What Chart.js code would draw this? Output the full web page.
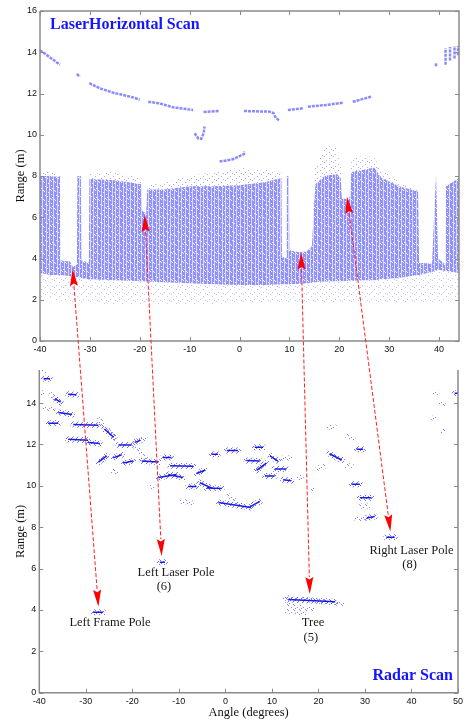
<!DOCTYPE html>
<html>
<head>
<meta charset="utf-8">
<title>Laser vs Radar Scan</title>
<script src="https://cdn.jsdelivr.net/npm/chart.js@4.4.1/dist/chart.umd.min.js"></script>
<style>
  html, body { margin: 0; padding: 0; background: #fff; }
  #wrap { position: relative; width: 466px; height: 721px; }
  #wrap canvas { position: absolute; left: 0; top: 0; }
</style>
</head>
<body>
<div id="wrap">
  <canvas id="laserChart" width="466" height="721"></canvas>
  <canvas id="radarChart" width="466" height="721"></canvas>
</div>
<script>
// laser-radar-scan.html
// Laser horizontal scan (top) vs radar scan (bottom), linked by arrows

// ---- Laser scan: envelope of the dense return band (angle deg -> range m)
const laserAngles = [-40, -38, -36, -35.9, -34, -33.4, -32.6, -32.5, -31.8, -31.7, -30.2, -30.1,
    -25, -19.7, -19.5, -18.7, -18.5, -15, -10, -5, 0, 5, 8.4, 8.5, 9.4, 9.5, 9.9, 10,
    12, 13.5, 14.5, 15.2, 17, 19.5, 20.3, 20.5, 22.2, 22.4, 25, 27, 28.5, 32, 35.8, 36,
    38.6, 39, 39.4, 39.8, 41.3, 41.4, 44];
const laserTop = [8.0, 8.0, 7.95, 3.9, 3.85, 3.6, 3.7, 8.0, 8.0, 3.9, 3.8, 7.85,
    7.8, 7.6, 6.3, 6.2, 7.35, 7.35, 7.5, 7.5, 7.55, 7.7, 7.9, 4.1, 4.0, 8.0, 8.0, 4.4,
    4.3, 4.35, 4.6, 7.6, 8.0, 8.1, 7.9, 6.9, 6.9, 8.2, 8.3, 8.4, 7.9, 7.5, 7.25, 3.8,
    3.75, 6.0, 8.1, 4.0, 3.7, 7.5, 7.9];
const laserBottom = [3.3, 3.2, 3.2, 3.2, 3.15, 3.1, 3.1, 3.1, 3.05, 3.05, 3.0, 3.0,
    2.95, 2.9, 2.9, 2.88, 2.88, 2.85, 2.8, 2.75, 2.72, 2.72, 2.75, 2.75, 2.75, 2.75, 2.75, 2.75,
    2.78, 2.8, 2.82, 2.85, 2.88, 2.9, 2.9, 2.9, 2.92, 2.92, 2.95, 2.95, 3.0, 3.05, 3.2, 3.2,
    3.35, 3.4, 3.4, 3.45, 3.4, 3.4, 3.3];
const groundLow = [2.1, 2.0, 1.95, 1.95, 1.9, 1.9, 1.9, 1.9, 1.9, 1.9, 1.85, 1.85,
    1.75, 1.7, 1.7, 1.7, 1.7, 1.7, 1.75, 1.8, 1.85, 1.85, 1.85, 1.85, 1.85, 1.85, 1.85, 1.85,
    1.85, 1.85, 1.85, 1.85, 1.85, 1.85, 1.85, 1.85, 1.85, 1.85, 1.85, 1.85, 1.85, 1.85, 1.85, 1.85,
    1.9, 1.9, 1.9, 1.9, 1.9, 1.9, 1.95];
const hazeTop = [8.2, 8.2, 8.1, 3.9, 3.85, 3.6, 3.7, 8.05, 8.05, 3.9, 3.8, 8.1,
    8.2, 7.9, 6.3, 6.2, 7.6, 7.7, 8.0, 8.2, 8.4, 8.3, 8.2, 4.1, 4.0, 8.0, 8.0, 4.4,
    4.3, 4.35, 4.6, 8.5, 9.4, 9.5, 8.5, 6.9, 7.0, 8.8, 9.0, 8.9, 8.3, 7.7, 7.4, 3.8,
    3.75, 6.0, 8.1, 4.0, 3.7, 7.6, 8.0];

// ---- Laser scan: far wall returns (null = break between pieces)
const wallAngles = [-40, -38, -36, null, -32.6, -32, null, -30.1, -28, -25.3, -21.3, -20, null,
    -18.3, -16, -13.3, -9.3, null, -7.2, -4.1, null, -9, -8.3, -7.7, -7.2, -7, null,
    0.9, 6, 6.8, 7.3, 8, null, 9.7, 12.7, null, 13.7, 17.3, 20.7, null, 22.7, 26.5, null,
    39.3, 39.5, null, -4, -1.3, 0.9, 0.9, null, 41.3, 41.3, null, 42.2, 42.2, null,
    43.1, 43.1, null, 43.8, 43.8];
const wallRanges = [14.1, 13.75, 13.4, null, 12.95, 12.8, null, 12.5, 12.25, 12.04, 11.81, 11.7, null,
    11.6, 11.52, 11.33, 11.2, null, 11.1, 11.15, null, 10.07, 9.83, 9.8, 10.07, 10.4, null,
    11.15, 11.12, 11.05, 10.8, 10.7, null, 11.2, 11.28, null, 11.36, 11.44, 11.55, null, 11.6, 11.85, null,
    13.46, 13.3, null, 8.7, 8.81, 9.07, 9.2, null, 13.4, 14.2, null, 13.6, 14.25, null,
    13.7, 14.3, null, 13.85, 14.3];

// ---- Radar scan: return clusters [startAngle, endAngle, startRange, endRange]
const radarStrong = [
    [-39.1, -37.7, 15.18, 15.18], [-33.8, -32.0, 14.43, 14.40], [-36.6, -35.4, 14.2, 14.05],
    [-35.9, -33.0, 13.55, 13.45], [-38.1, -35.9, 13.03, 13.03], [-32.7, -27.3, 12.97, 12.93],
    [-26.0, -24.0, 12.75, 12.35], [-33.8, -29.5, 12.25, 12.20], [-29.5, -27.0, 12.10, 12.05],
    [-23.0, -20.2, 11.98, 11.98], [-19.5, -18.3, 12.1, 12.2], [-27.3, -25.5, 11.15, 11.45],
    [-24.1, -22.3, 11.35, 11.5], [-22.0, -19.8, 11.1, 11.2], [-18.0, -14.4, 11.2, 11.15],
    [-13.4, -11.6, 11.37, 11.37], [-14.4, -10.5, 10.40, 10.55], [-12.3, -9.1, 10.55, 10.40],
    [-11.9, -6.9, 10.97, 10.95], [-8.0, -6.2, 9.97, 9.97], [-6.2, -4.4, 10.6, 10.75],
    [-5.5, -3.0, 10.15, 9.9], [-4.0, -0.8, 9.9, 9.87], [-3.0, -1.6, 11.53, 11.53],
    [-1.5, 5.5, 9.2, 8.95], [5.0, 7.4, 8.95, 9.25], [0.3, 2.7, 11.71, 11.71],
    [4.5, 7.4, 11.22, 11.2], [6.3, 8.1, 11.87, 11.87], [6.7, 8.8, 10.75, 11.1],
    [8.5, 10.6, 10.48, 10.48], [9.6, 11.3, 11.45, 11.2], [10.6, 13.1, 10.81, 10.81],
    [12.4, 14.2, 10.29, 10.25], [22.4, 25.0, 11.55, 11.25], [28.2, 29.6, 11.77, 11.77],
    [27.1, 28.9, 10.08, 10.08], [28.9, 31.4, 9.43, 9.43], [30.4, 32.1, 8.45, 8.52],
    [34.6, 36.4, 7.52, 7.52], [49.3, 50.0, 14.48, 14.48], [-14.1, -13.0, 6.31, 6.31],
    [-28.4, -26.3, 3.89, 3.89], [13.5, 23.6, 4.5, 4.4]
];
const radarWeak = [
    [-39.8, -38.8, 15.58, 15.58], [-40.0, -39.4, 14.53, 14.50], [-37.6, -35.4, 14.45, 13.9],
    [-38.8, -37.0, 13.72, 13.68], [-27.1, -23.7, 13.2, 12.3], [-20.2, -17.3, 12.0, 12.3],
    [-19.4, -17.0, 11.9, 11.3], [-24.1, -23.6, 10.69, 10.69], [-15.8, -15.4, 9.97, 9.97],
    [-9.4, -7.3, 9.25, 9.2], [0.5, 3.5, 9.55, 9.0], [12.4, 13.8, 11.34, 11.34],
    [15.8, 16.3, 10.4, 10.4], [18.6, 19.0, 9.8, 9.8], [19.9, 21.4, 10.85, 10.95],
    [22.1, 23.5, 12.82, 12.85], [26.0, 27.4, 12.45, 12.3], [26.0, 27.1, 10.97, 10.97],
    [29.2, 30.7, 9.03, 9.03], [28.2, 30.4, 8.4, 8.45], [45.1, 45.5, 14.5, 14.5],
    [46.4, 46.8, 13.95, 13.95], [44.7, 45.1, 13.28, 13.28], [46.6, 47.0, 12.65, 12.65],
    [12.8, 25.0, 4.6, 4.3], [13.0, 19.0, 4.25, 4.0], [13.2, 17.0, 3.95, 3.85]
];

// ---- Links: laser feature (angle, range) -> radar feature (angle, range)
const linkLaserAngle = [-33.45, -19.0, 12.35, 21.55];
const linkLaserRange = [3.49, 6.12, 4.29, 7.0];
const linkRadarAngle = [-27.3, -13.7, 18.14, 35.47];
const linkRadarRange = [4.16, 6.61, 4.77, 7.79];

// ---- Axis ticks
const laserXTicks = [-40, -30, -20, -10, 0, 10, 20, 30, 40];
const laserYTicks = [0, 2, 4, 6, 8, 10, 12, 14, 16];
const radarXTicks = [-40, -30, -20, -10, 0, 10, 20, 30, 40, 50];
const radarYTicks = [0, 2, 4, 6, 8, 10, 12, 14];

// Text labels on the radar plot, placed in data coordinates
const radarNotes = [
    { text: 'Left Frame Pole', x: -24.8, y: 3.39 },
    { text: 'Left Laser Pole', x: -10.6, y: 5.78 },
    { text: '(6)', x: -13.2, y: 5.1 },
    { text: 'Tree', x: 18.85, y: 3.39 },
    { text: '(5)', x: 18.35, y: 2.68 },
    { text: 'Right Laser Pole', x: 40.0, y: 6.87 },
    { text: '(8)', x: 39.6, y: 6.19 }
];

const SERIF = "'Liberation Serif', 'Times New Roman', serif";
const SANS = "'Liberation Sans', Arial, sans-serif";
const AXIS_GREY = '#8a8a8a';

Chart.defaults.font.family = SANS;
Chart.defaults.color = '#111';

/**
 * Builds a small repeating canvas pattern.
 */
function makePattern(w, h, paint) {
    const c = document.createElement('canvas');
    c.width = w;
    c.height = h;
    const g = c.getContext('2d');
    paint(g);
    return g.createPattern(c, 'repeat');
}

function dots(g, color, list) {
    g.fillStyle = color;
    list.forEach(p => g.fillRect(p[0], p[1], 1, 1));
}

// vertical scan stripes of the dense laser band
const stripeFill = makePattern(11, 9, g => {
    g.fillStyle = 'rgb(144,144,255)';
    g.fillRect(0, 0, 11, 9);
    g.fillStyle = 'rgb(218,218,255)';
    [2, 5, 9].forEach(x => g.fillRect(x, 0, 1, 9));
    dots(g, 'rgba(255,255,255,0.9)', [[0, 2], [7, 5], [3, 7], [10, 1], [6, 0], [1, 6], [8, 8], [4, 3], [7, 1]]);
});

// loose speckle for ground returns
const groundFill = makePattern(9, 7, g => {
    dots(g, 'rgba(150,150,255,0.6)', [[0, 0], [5, 2], [2, 5], [7, 6]]);
});

// sparse speckle above the band
const hazeFill = makePattern(9, 6, g => {
    dots(g, 'rgba(130,130,255,0.7)', [[0, 0], [5, 2], [2, 4], [7, 5]]);
});

// fuzzy speckle round radar clusters
const radarHalo = makePattern(5, 5, g => {
    dots(g, 'rgba(60,60,255,0.75)', [[0, 0], [3, 1], [1, 3], [4, 4], [2, 2]]);
});
const radarHaze = makePattern(6, 5, g => {
    dots(g, 'rgba(80,80,255,0.7)', [[0, 0], [3, 2], [5, 4], [1, 3]]);
});

function xy(xs, ys) {
    return xs.map((x, i) => ({ x: x === null ? xs[i - 1] : x, y: ys[i] }));
}

function segments(list) {
    const pts = [];
    list.forEach(s => {
        pts.push({ x: s[0], y: s[2] }, { x: s[1], y: s[3] }, { x: s[1], y: null });
    });
    return pts;
}

function envelope(ys, fill, bg) {
    return {
        data: xy(laserAngles, ys),
        borderWidth: 0,
        borderColor: 'transparent',
        pointRadius: 0,
        fill: fill,
        backgroundColor: bg,
        tension: 0
    };
}

/**
 * Box frame with inward tick marks (MATLAB style).
 */
const framePlugin = {
    id: 'frame',
    afterDraw(chart, args, opts) {
        const { ctx, chartArea: a, scales: { x, y } } = chart;
        const len = 4;
        ctx.save();
        ctx.strokeStyle = AXIS_GREY;
        ctx.lineWidth = 1.5;
        ctx.beginPath();
        ctx.moveTo(a.left, a.top);
        ctx.lineTo(a.left, a.bottom);
        ctx.lineTo(a.right, a.bottom);
        ctx.lineTo(a.right, a.top);
        if (opts.top) ctx.lineTo(a.left, a.top);
        ctx.stroke();
        ctx.lineWidth = 1;
        ctx.beginPath();
        x.ticks.forEach(t => {
            const px = Math.round(x.getPixelForValue(t.value)) + 0.5;
            ctx.moveTo(px, a.bottom);
            ctx.lineTo(px, a.bottom - len);
            if (opts.top) {
                ctx.moveTo(px, a.top);
                ctx.lineTo(px, a.top + len);
            }
        });
        y.ticks.forEach(t => {
            const py = Math.round(y.getPixelForValue(t.value)) + 0.5;
            ctx.moveTo(a.left, py);
            ctx.lineTo(a.left + len, py);
            ctx.moveTo(a.right, py);
            ctx.lineTo(a.right - len, py);
        });
        ctx.stroke();
        ctx.restore();
    }
};

/**
 * Blue bold panel caption inside the plot area.
 */
const captionPlugin = {
    id: 'caption',
    afterDraw(chart, args, opts) {
        const { ctx, chartArea: a } = chart;
        ctx.save();
        ctx.font = 'bold 16px ' + SERIF;
        ctx.fillStyle = '#1414ff';
        ctx.textBaseline = 'middle';
        if (opts.align === 'right') {
            ctx.textAlign = 'right';
            ctx.fillText(opts.text, a.right - opts.dx, a.bottom - opts.dy);
        } else {
            ctx.textAlign = 'left';
            ctx.fillText(opts.text, a.left + opts.dx, a.top + opts.dy);
        }
        ctx.restore();
    }
};

function tickAxis(min, max, values, fitSize, horizontal, title, titlePad) {
    return {
        type: 'linear',
        min: min,
        max: max,
        afterBuildTicks: scale => { scale.ticks = values.map(v => ({ value: v })); },
        afterFit: scale => {
            if (horizontal) scale.height = fitSize; else scale.width = fitSize;
        },
        grid: { display: false, drawTicks: false },
        border: { display: false },
        ticks: {
            font: { size: 9, family: SANS },
            color: '#111',
            padding: 3,
            maxRotation: 0,
            autoSkip: false
        },
        title: {
            display: !!title,
            text: title,
            font: { size: 12.5, family: SERIF },
            color: '#111',
            padding: titlePad
        }
    };
}

function baseOptions() {
    return {
        responsive: false,
        animation: false,
        events: [],
        plugins: { legend: { display: false }, tooltip: { enabled: false } }
    };
}

// ---------------- Laser chart (top) ----------------
const laserOptions = baseOptions();
laserOptions.layout = { padding: { left: 0, right: 7, top: 11, bottom: 361 } };
laserOptions.scales = {
    x: tickAxis(-40, 44, laserXTicks, 19, true, '', 0),
    y: tickAxis(0, 16, laserYTicks, 40, false, 'Range (m)', { top: 13.5, bottom: 0 })
};
laserOptions.plugins.frame = { top: true };
laserOptions.plugins.caption = { text: 'LaserHorizontal Scan', align: 'left', dx: 10, dy: 14 };

const laserChart = new Chart(document.getElementById('laserChart'), {
    type: 'line',
    data: {
        datasets: [
            envelope(groundLow, false, 'transparent'),
            envelope(laserBottom, 0, groundFill),
            envelope(laserTop, 1, stripeFill),
            envelope(hazeTop, 2, hazeFill),
            {
                data: xy(wallAngles, wallRanges),
                borderColor: 'rgba(118,118,255,0.85)',
                borderWidth: 2.5,
                borderDash: [3, 1],
                pointRadius: 0,
                fill: false,
                spanGaps: false,
                order: -1
            }
        ]
    },
    options: laserOptions,
    plugins: [framePlugin, captionPlugin]
});

/**
 * Red dashed arrows linking laser features to radar features,
 * plus the text notes of the radar panel.
 */
const linkPlugin = {
    id: 'links',
    afterDraw(chart) {
        const { ctx } = chart;
        const rx = chart.scales.x, ry = chart.scales.y;
        const lx = laserChart.scales.x, ly = laserChart.scales.y;
        const headLen = 17, headHalf = 4;

        ctx.save();
        linkLaserAngle.forEach((a, i) => {
            const p1 = { x: lx.getPixelForValue(a), y: ly.getPixelForValue(linkLaserRange[i]) };
            const p2 = { x: rx.getPixelForValue(linkRadarAngle[i]), y: ry.getPixelForValue(linkRadarRange[i]) };
            const dx = p2.x - p1.x, dy = p2.y - p1.y;
            const d = Math.hypot(dx, dy);
            const ux = dx / d, uy = dy / d;

            ctx.strokeStyle = '#ff2020';
            ctx.lineWidth = 1;
            ctx.setLineDash([4, 2]);
            ctx.beginPath();
            ctx.moveTo(p1.x + ux * headLen, p1.y + uy * headLen);
            ctx.lineTo(p2.x - ux * headLen, p2.y - uy * headLen);
            ctx.stroke();
            ctx.setLineDash([]);

            ctx.fillStyle = '#ff0000';
            [[p1, 1], [p2, -1]].forEach(([tip, s]) => {
                const bx = tip.x + s * ux * headLen, by = tip.y + s * uy * headLen;
                ctx.beginPath();
                ctx.moveTo(tip.x, tip.y);
                ctx.lineTo(bx - uy * headHalf, by + ux * headHalf);
                ctx.lineTo(tip.x + s * ux * headLen * 0.85, tip.y + s * uy * headLen * 0.85);
                ctx.lineTo(bx + uy * headHalf, by - ux * headHalf);
                ctx.closePath();
                ctx.fill();
            });
        });

        ctx.font = '12.5px ' + SERIF;
        ctx.fillStyle = '#1a1a1a';
        ctx.textAlign = 'center';
        ctx.textBaseline = 'middle';
        radarNotes.forEach(n => {
            ctx.fillText(n.text, rx.getPixelForValue(n.x), ry.getPixelForValue(n.y));
        });
        ctx.restore();
    }
};

// ---------------- Radar chart (bottom) ----------------
const radarOptions = baseOptions();
radarOptions.layout = { padding: { left: 0, right: 8, top: 370, bottom: 0 } };
radarOptions.scales = {
    x: tickAxis(-40, 50, radarXTicks, 28.3, true, 'Angle (degrees)', { top: 0, bottom: 1 }),
    y: tickAxis(0, 15.6, radarYTicks, 39.3, false, 'Range (m)', { top: 13.5, bottom: 0 })
};
radarOptions.plugins.frame = { top: false };
radarOptions.plugins.caption = { text: 'Radar Scan', align: 'right', dx: 5, dy: 17 };

const radarChart = new Chart(document.getElementById('radarChart'), {
    type: 'line',
    data: {
        datasets: [
            {
                data: segments(radarStrong),
                borderColor: '#1a1ae6',
                borderWidth: 1.5,
                pointRadius: 0,
                fill: false,
                spanGaps: false,
                order: 0
            },
            {
                data: segments(radarStrong),
                borderColor: radarHalo,
                borderWidth: 6,
                borderCapStyle: 'round',
                pointRadius: 0,
                fill: false,
                spanGaps: false,
                order: 1
            },
            {
                data: segments(radarWeak),
                borderColor: radarHaze,
                borderWidth: 5,
                borderCapStyle: 'round',
                pointRadius: 0,
                fill: false,
                spanGaps: false,
                order: 2
            }
        ]
    },
    options: radarOptions,
    plugins: [framePlugin, captionPlugin, linkPlugin]
});
</script>
</body>
</html>
